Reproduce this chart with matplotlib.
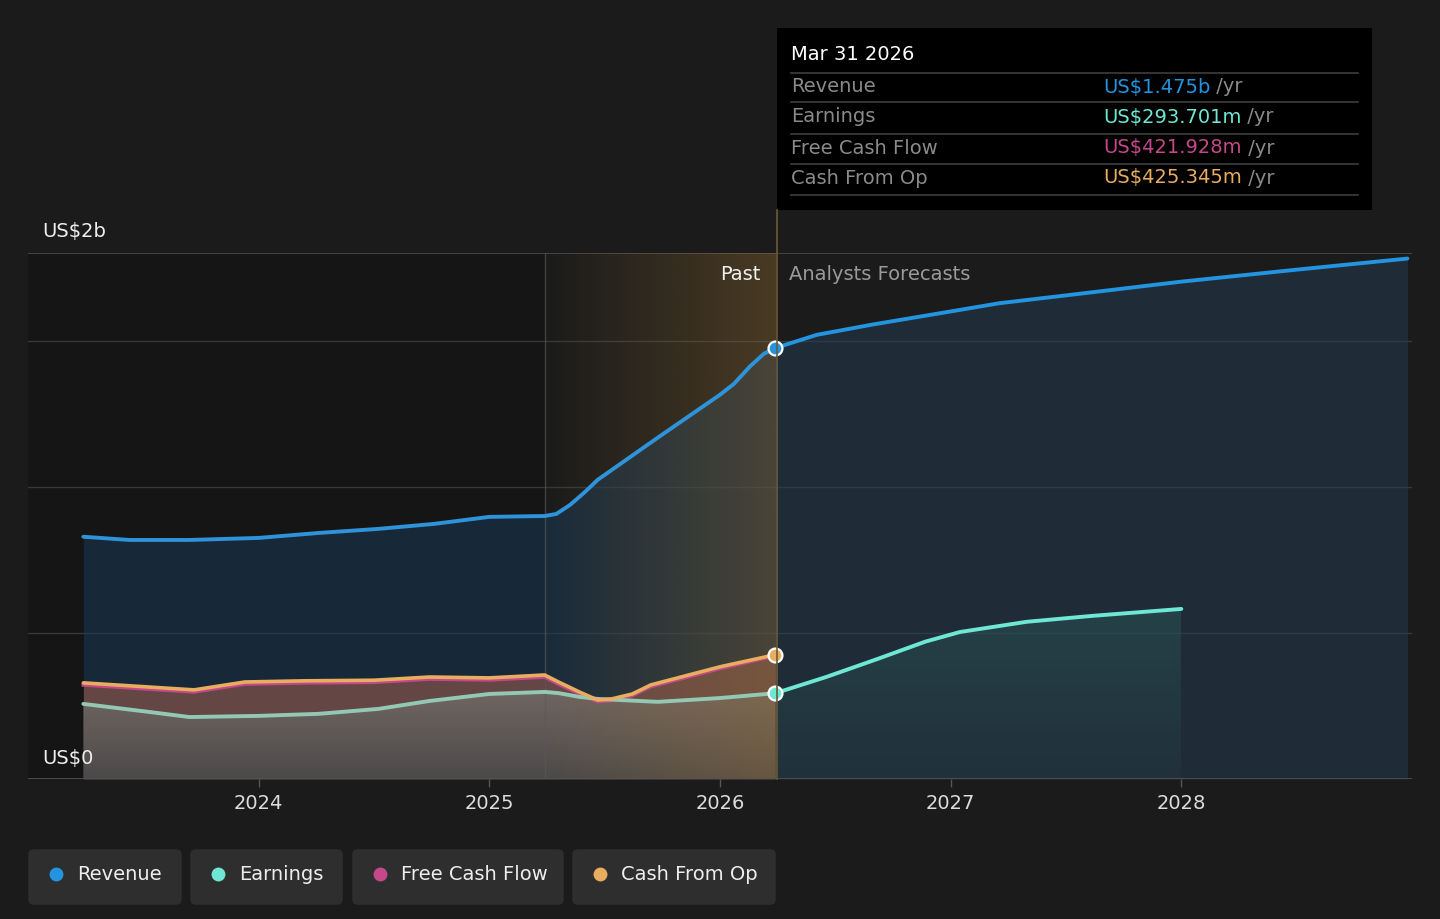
import numpy as np
import matplotlib.pyplot as plt
from matplotlib.patches import FancyBboxPatch, Rectangle, Polygon
from matplotlib.lines import Line2D
from matplotlib.text import Annotation

# ---- data (billions US$, x in decimal years) ----
rev_past_x = [2023.24, 2023.44, 2023.70, 2024.00, 2024.26, 2024.52, 2024.76, 2025.00, 2025.24,
              2025.29, 2025.35, 2025.41, 2025.47, 2025.73, 2026.00, 2026.06, 2026.13, 2026.19, 2026.24]
rev_past_y = [0.829, 0.818, 0.818, 0.825, 0.842, 0.856, 0.873, 0.897, 0.900,
              0.907, 0.938, 0.979, 1.024, 1.168, 1.315, 1.352, 1.412, 1.455, 1.475]
rev_fc_x = [2026.24, 2026.42, 2026.66, 2027.00, 2027.21, 2027.50, 2028.00, 2028.50, 2028.98]
rev_fc_y = [1.475, 1.520, 1.555, 1.600, 1.628, 1.655, 1.702, 1.743, 1.781]

earn_past_x = [2023.24, 2023.53, 2023.70, 2024.00, 2024.26, 2024.52, 2024.74, 2025.00, 2025.24,
               2025.30, 2025.39, 2025.47, 2025.73, 2026.00, 2026.24]
earn_past_y = [0.257, 0.229, 0.212, 0.216, 0.223, 0.240, 0.267, 0.291, 0.298,
               0.294, 0.281, 0.274, 0.264, 0.277, 0.2937]
earn_fc_x = [2026.24, 2026.46, 2026.68, 2026.89, 2027.04, 2027.33, 2027.61, 2028.00]
earn_fc_y = [0.2937, 0.349, 0.410, 0.470, 0.503, 0.538, 0.558, 0.582]

cfo_x = [2023.24, 2023.72, 2023.94, 2024.20, 2024.50, 2024.74, 2025.00, 2025.24,
         2025.30, 2025.39, 2025.47, 2025.53, 2025.62, 2025.70, 2026.00, 2026.24]
cfo_y = [0.329, 0.305, 0.332, 0.336, 0.338, 0.349, 0.346, 0.356,
         0.332, 0.298, 0.270, 0.274, 0.291, 0.322, 0.384, 0.4253]
fcf_y = [0.322, 0.298, 0.325, 0.329, 0.331, 0.342, 0.339, 0.349,
         0.325, 0.292, 0.265, 0.269, 0.286, 0.316, 0.378, 0.4219]

years = [2024, 2025, 2026, 2027, 2028]
y_grid = [0.5, 1.0, 1.5]

tip_date = "Mar 31 2026"
tip_names = ["Revenue", "Earnings", "Free Cash Flow", "Cash From Op"]
tip_values = ["US$1.475b", "US$293.701m", "US$421.928m", "US$425.345m"]

# colours
BG = "#1b1b1b"
C_REV = "#2394df"
C_EARN = "#6ee7d4"
C_FCF = "#c4488a"
C_CFO = "#e8ad5f"
colors = [C_REV, C_EARN, C_FCF, C_CFO]

W, H = 1440, 919
FS = 14
fig = plt.figure(figsize=(W / 100, H / 100), dpi=100, facecolor=BG)


def fx(x):
    return x / W


def fy(y):
    return 1 - y / H


def grad_fill(ax, xs, ys, top, bottom, z):
    # vertical gradient clipped to the area under a line
    verts = list(zip(xs, ys)) + [(xs[-1], 0), (xs[0], 0)]
    poly = Polygon(verts, closed=True, facecolor="none", edgecolor="none")
    ax.add_patch(poly)
    g = np.zeros((256, 1, 4))
    t = np.linspace(1, 0, 256)[:, None]
    for i in range(4):
        g[:, :, i] = top[i] * t + bottom[i] * (1 - t)
    im = ax.imshow(g, extent=[xs[0], xs[-1], 0, max(ys)], aspect="auto", origin="upper",
                   zorder=z, interpolation="bilinear")
    im.set_clip_path(poly)


ax = fig.add_axes([fx(28), fy(779), fx(1412) - fx(28), fy(253) - fy(779)])
ax.set_facecolor(BG)
for s in ax.spines.values():
    s.set_visible(False)

# darker past background
ax.axvspan(2023.0, 2025.24, color="#151515", zorder=0, lw=0)

# grid lines
for g in y_grid:
    ax.axhline(g, color="#383838", lw=1, zorder=1)
ax.axhline(1.8, color="#4c4c4c", lw=1.2, zorder=1)
ax.axhline(0, color="#555555", lw=1.2, zorder=6)

# fills
ax.fill_between(rev_past_x, rev_past_y, 0, color="#1a3a55", alpha=0.55, lw=0, zorder=2)
ax.fill_between(rev_fc_x, rev_fc_y, 0, color="#25415a", alpha=0.45, lw=0, zorder=2)
ax.fill_between(cfo_x, cfo_y, 0, color="#cf7058", alpha=0.42, lw=0, zorder=3)
grad_fill(ax, earn_past_x, earn_past_y, (0.45, 0.42, 0.40, 0.85), (0.29, 0.29, 0.29, 0.95), 3.1)
grad_fill(ax, earn_fc_x, earn_fc_y, (0.17, 0.33, 0.34, 0.55), (0.14, 0.22, 0.25, 0.45), 3.1)

# highlighted last-year band (gradient)
band = np.zeros((1, 256, 4))
band[..., 0] = 150 / 255
band[..., 1] = 110 / 255
band[..., 2] = 50 / 255
band[..., 3] = np.linspace(0.0, 0.38, 256)
ax.imshow(band, extent=[2025.24, 2026.24, 0, 1.8], aspect="auto", zorder=4, interpolation="bilinear")
ax.axvline(2025.24, color="#5a5a5a", alpha=0.6, lw=1, zorder=4)

# lines
ax.plot(rev_past_x, rev_past_y, color="#2e93d8", lw=2.8, zorder=7, solid_capstyle="round",
        solid_joinstyle="round")
ax.plot(rev_fc_x, rev_fc_y, color=C_REV, lw=2.8, zorder=7, solid_capstyle="round",
        solid_joinstyle="round")
ax.plot(cfo_x, fcf_y, color=C_FCF, lw=2.6, zorder=7, solid_joinstyle="round")
ax.plot(cfo_x, cfo_y, color=C_CFO, lw=2.6, zorder=8, solid_capstyle="round", solid_joinstyle="round")
ax.plot(earn_past_x, earn_past_y, color="#93c9b4", lw=2.8, zorder=7, solid_capstyle="round",
        solid_joinstyle="round")
ax.plot(earn_fc_x, earn_fc_y, color=C_EARN, lw=2.8, zorder=7, solid_capstyle="round",
        solid_joinstyle="round")

# end markers
for yv, c in [(rev_past_y[-1], C_REV), (earn_past_y[-1], C_EARN), (cfo_y[-1], C_CFO)]:
    ax.plot(2026.24, yv, "o", ms=10, mfc=c, mec="white", mew=1.6, zorder=10)

ax.set_xlim(2023.0, 2029.0)
ax.set_ylim(0, 1.8)

# x ticks
ax.set_xticks(years)
ax.set_xticklabels([str(y) for y in years], color="#dddddd", fontsize=FS)
ax.tick_params(axis="x", length=6, width=1, color="#555555", pad=5)
ax.set_yticks([])

# y labels
fig.text(fx(42), fy(232), "US$2b", color="#eeeeee", fontsize=FS, va="center")
ax.text(2023.0 + 14 / 230.75, 0.07, "US$0", color="#eeeeee", fontsize=FS, va="center", zorder=11)

# past / forecast labels
ax.text(2026.24 - 15 / 230.75, 1.725, "Past", color="#f0f0f0", fontsize=FS, ha="right", va="center", zorder=11)
ax.text(2026.24 + 14 / 230.75, 1.725, "Analysts Forecasts", color="#9a9a9a", fontsize=FS,
        ha="left", va="center", zorder=11)

# divider line from axis up to tooltip
fig.add_artist(Line2D([fx(777), fx(777)], [fy(779), fy(210)], color="#6b5a3a", lw=1.2))

# tooltip
fig.add_artist(Rectangle((fx(777), fy(210)), fx(1372) - fx(777), fy(28) - fy(210),
                         facecolor="black", edgecolor="none"))
fig.text(fx(791), fy(55), tip_date, color="white", fontsize=FS, va="center")
sep_y = [73, 102, 134, 164, 195]
for sy in sep_y:
    fig.add_artist(Line2D([fx(791), fx(1358)], [fy(sy), fy(sy)], color="#3e3e3e", lw=1.2))
row_y = [87, 117, 148, 178]
for name, val, c, ry in zip(tip_names, tip_values, colors, row_y):
    fig.text(fx(791), fy(ry), name, color="#8a8a8a", fontsize=FS, va="center")
    t = fig.text(fx(1103), fy(ry), val, color=c, fontsize=FS, va="center")
    # "/yr" right after the value
    fig.add_artist(Annotation(" /yr", xy=(1, 0.5), xycoords=t, va="center", ha="left",
                              color="#8a8a8a", fontsize=FS))

# legend buttons
btns = [(28, 182), (190, 343), (352, 564), (572, 776)]
for (x0, x1), name, c in zip(btns, tip_names, colors):
    fig.add_artist(FancyBboxPatch((fx(x0 + 6), fy(905 - 6)), fx(x1 - x0 - 12), fy(849 + 6) - fy(905 - 6),
                                  boxstyle="round,pad=0.004", facecolor="#2e2e2e", edgecolor="none",
                                  mutation_aspect=W / H))
    fig.add_artist(Line2D([fx(x0 + 28)], [fy(874)], marker="o", ms=10, mfc=c, mec="none"))
    fig.text(fx(x0 + 49), fy(874), name, color="#eeeeee", fontsize=FS, va="center")

fig.savefig("out.png", dpi=100, facecolor=BG)
